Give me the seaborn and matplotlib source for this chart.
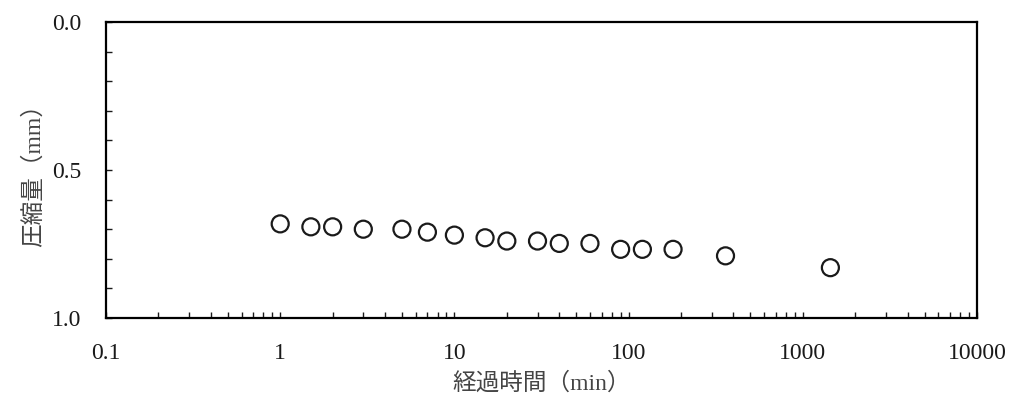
import matplotlib
matplotlib.use("Agg")
import matplotlib.pyplot as plt
import matplotlib.ticker as mticker
import pandas as pd
import seaborn as sns

# elapsed time (min) and compression (mm)
elapsed_min = [1, 1.5, 2, 3, 5, 7, 10, 15, 20, 30, 40, 60, 90, 120, 180, 360, 1440]
compression_mm = [0.682, 0.692, 0.692, 0.700, 0.700, 0.710, 0.720, 0.729, 0.740,
                  0.740, 0.748, 0.748, 0.768, 0.768, 0.768, 0.790, 0.830]

x_ticks = [0.1, 1, 10, 100, 1000, 10000]
x_tick_labels = ["0.1", "1", "10", "100", "1000", "10000"]
y_ticks = [0.0, 0.5, 1.0]
y_tick_labels = ["0.0", "0.5", "1.0"]

sns.set_style("white")
plt.rcParams['font.family'] = ['Liberation Serif', 'Noto Sans CJK JP']

df = pd.DataFrame({"t": elapsed_min, "s": compression_mm})

fig = plt.figure(figsize=(10.14, 4.03), dpi=100)
ax = fig.add_axes([106 / 1014, 1 - 318 / 403, 871 / 1014, 296 / 403])

sns.scatterplot(data=df, x="t", y="s", ax=ax, marker="o", s=150,
                facecolor="none", edgecolor="#1a1a1a", linewidth=1.6, legend=False)

ax.set_xscale("log")
ax.set_xlim(0.1, 10000)
ax.set_ylim(1.0, 0.0)

ax.set_xticks(x_ticks)
ax.set_xticklabels(x_tick_labels)
ax.xaxis.set_minor_locator(mticker.LogLocator(base=10, subs=range(2, 10)))
ax.xaxis.set_minor_formatter(mticker.NullFormatter())
ax.set_yticks(y_ticks)
ax.set_yticklabels(y_tick_labels)
ax.yaxis.set_minor_locator(mticker.MultipleLocator(0.1))

ax.tick_params(which="both", direction="in", length=4, width=1, colors="#1a1a1a",
               top=False, right=False, bottom=True, left=True, labelsize=17)
ax.tick_params(axis="x", which="major", pad=18)
ax.tick_params(axis="y", which="major", pad=18)

for sp in ax.spines.values():
    sp.set_visible(True)
    sp.set_color("black")
    sp.set_linewidth(1.6)

ax.set_xlabel("経過時間（min）", fontsize=17, color="#444444", labelpad=6)
ax.set_ylabel("圧縮量（mm）", fontsize=17, color="#444444", labelpad=5)

fig.savefig("out.png", dpi=100, facecolor="white")
